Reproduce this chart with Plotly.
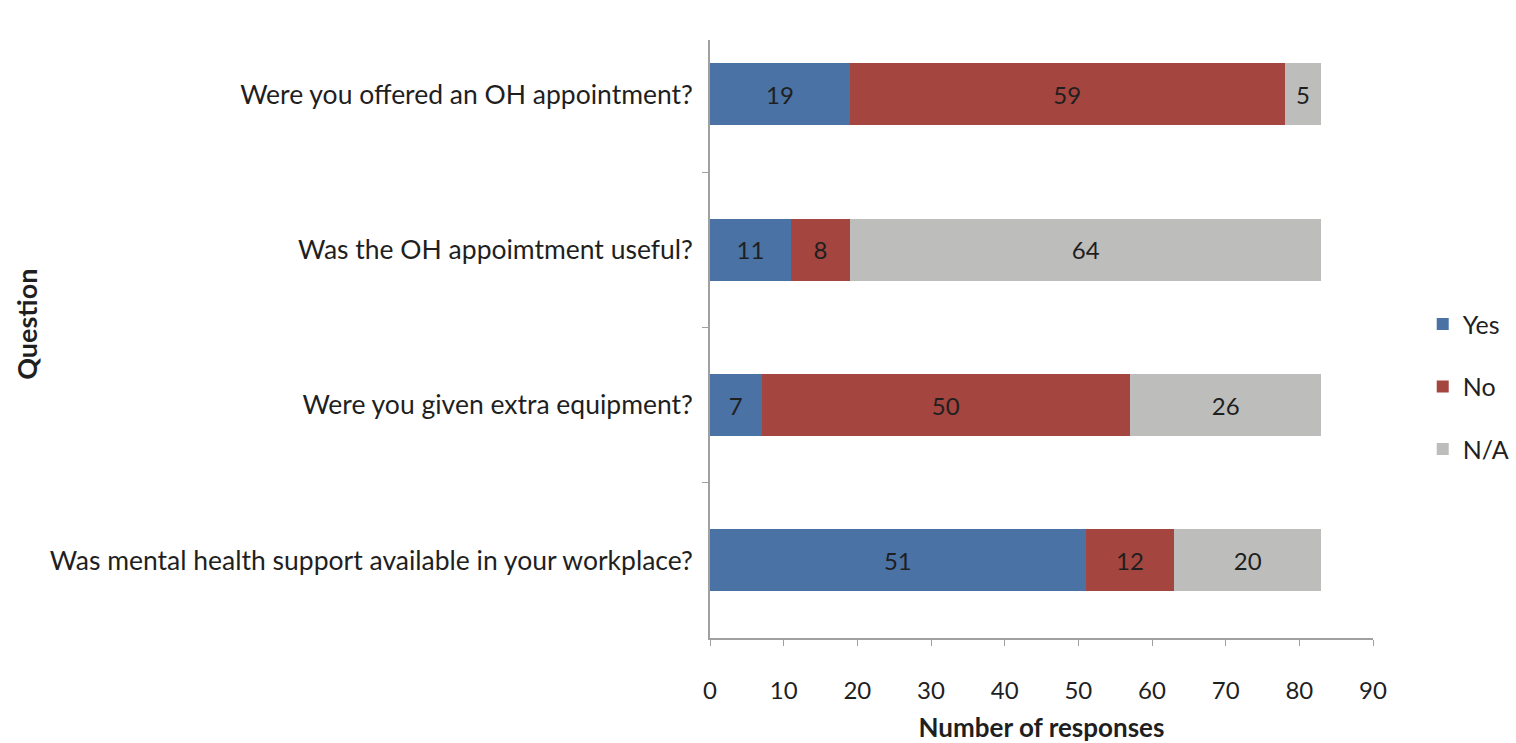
import plotly.graph_objects as go

questions = [
    "Were you offered an OH appointment?",
    "Was the OH appoimtment useful?",
    "Were you given extra equipment?",
    "Was mental health support available in your workplace?",
]
yes_counts = [19, 11, 7, 51]
no_counts = [59, 8, 50, 12]
na_counts = [5, 64, 26, 20]

series = [
    ("Yes", yes_counts, "#4a72a5"),
    ("No", no_counts, "#a4453f"),
    ("N/A", na_counts, "#bdbdbb"),
]

FONT = "Lato, sans-serif"
TEXT = "#1f1f1f"
AXIS = "#a0a0a0"

fig = go.Figure()
for name, vals, color in series:
    fig.add_trace(go.Bar(
        y=questions,
        x=vals,
        name=name,
        orientation="h",
        marker=dict(color=color, line=dict(width=0)),
        text=vals,
        texttemplate="%{text}",
        textposition="inside",
        insidetextanchor="middle",
        textangle=0,
        constraintext="none",
        textfont=dict(family=FONT, size=24, color=TEXT),
        legendgroup=name,
    ))

fig.update_layout(
    barmode="stack",
    bargap=0.6,
    width=1516,
    height=743,
    margin=dict(l=710, r=143, t=40, b=105, autoexpand=False),
    plot_bgcolor="white",
    paper_bgcolor="white",
    font=dict(family=FONT, size=24, color=TEXT),
    showlegend=True,
    legend=dict(
        x=1.075, xanchor="left", y=0.42, yanchor="middle",
        font=dict(family=FONT, size=25, color=TEXT),
        tracegroupgap=27,
        itemwidth=30,
        borderwidth=0,
        bgcolor="rgba(0,0,0,0)",
    ),
    xaxis=dict(
        range=[0, 90],
        dtick=10,
        automargin=False,
        showgrid=False,
        zeroline=False,
        showline=True,
        linecolor=AXIS,
        linewidth=1.5,
        ticks="outside",
        ticklen=6,
        tickcolor=AXIS,
        ticklabelstandoff=24,
        tickfont=dict(family=FONT, size=24, color=TEXT),
        title=dict(text="<b>Number of responses</b>",
                   font=dict(family=FONT, size=26, color=TEXT), standoff=18),
    ),
    yaxis=dict(
        type="category",
        categoryorder="array",
        categoryarray=questions,
        range=[3.5, -0.35],
        automargin=False,
        showgrid=False,
        zeroline=False,
        showline=True,
        linecolor=AXIS,
        linewidth=1.5,
        ticks="outside",
        tickson="boundaries",
        ticklen=6,
        tickcolor=AXIS,
        ticklabelstandoff=10,
        tickfont=dict(family=FONT, size=26.5, color=TEXT),
    ),
    annotations=[dict(
        text="<b>Question</b>",
        xref="paper", yref="paper",
        x=-1.032, y=0.525,
        xanchor="center", yanchor="middle",
        textangle=-90,
        showarrow=False,
        font=dict(family=FONT, size=27, color=TEXT),
    )],
)

fig.write_html("out.html")
